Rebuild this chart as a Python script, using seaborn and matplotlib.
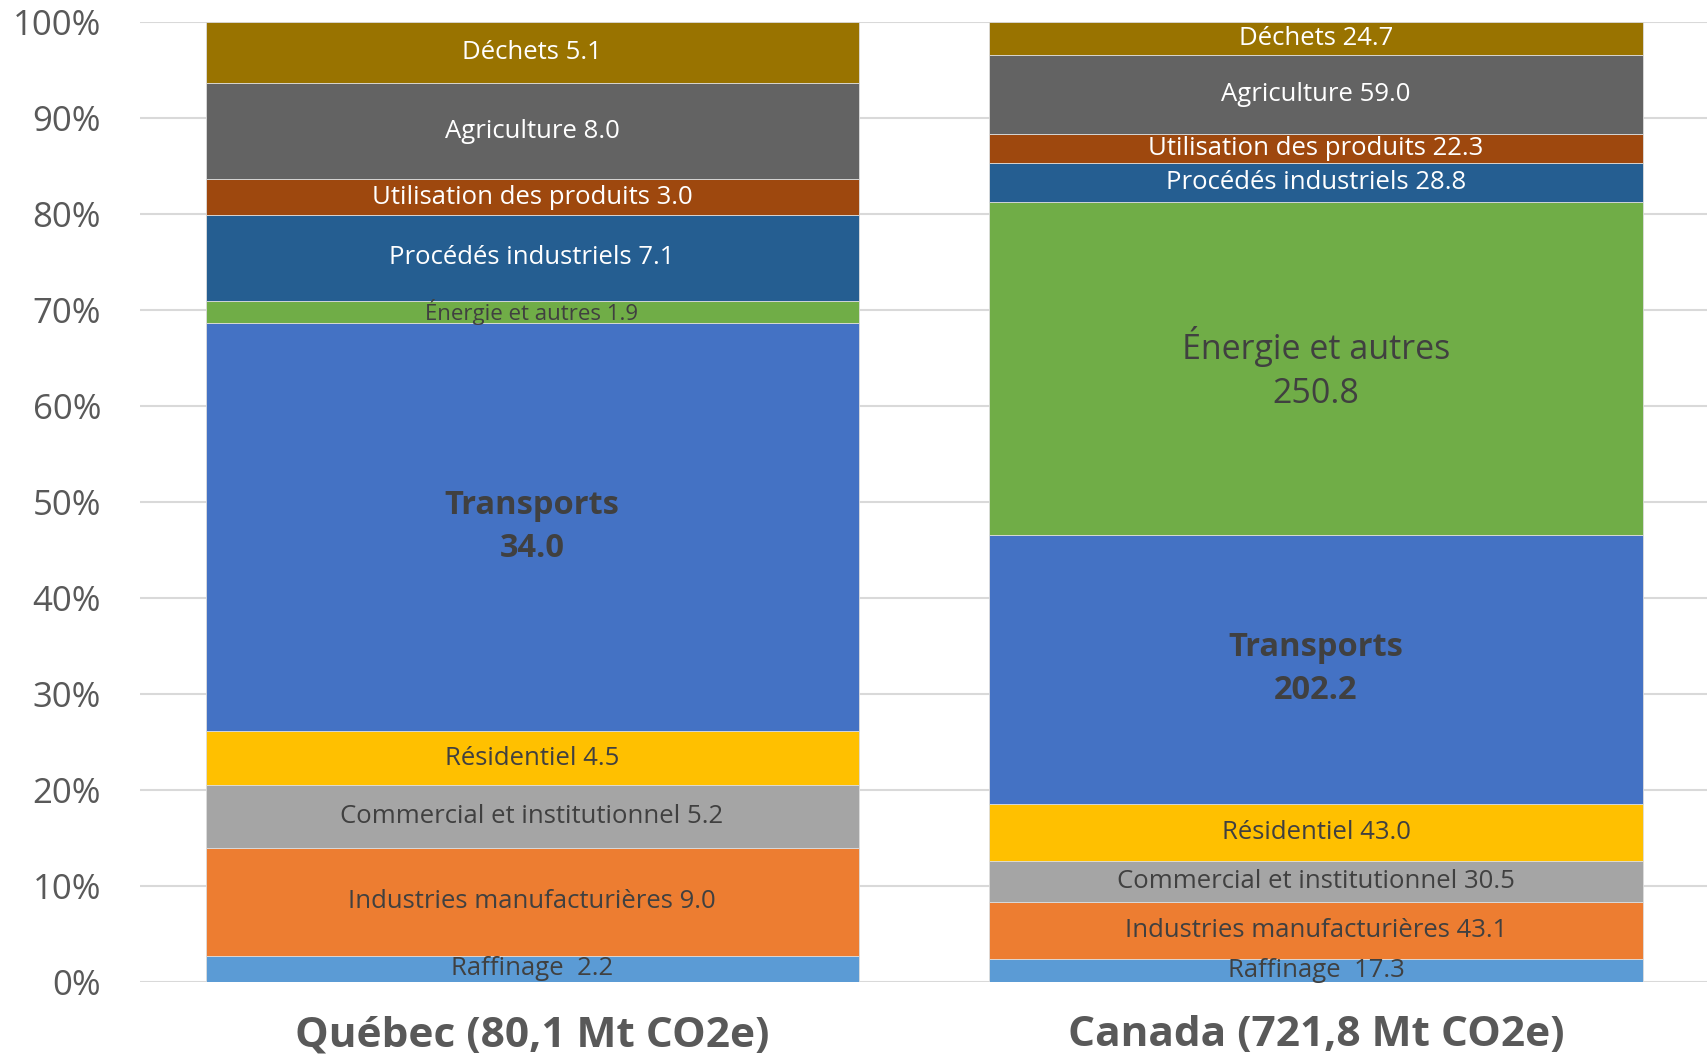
import pandas as pd
import numpy as np
import matplotlib.pyplot as plt
import matplotlib.ticker as mtick
import seaborn as sns

# emissions by sector, Mt CO2e (bottom to top of each bar)
sectors = ['Raffinage', 'Industries manufacturières', 'Commercial et institutionnel',
           'Résidentiel', 'Transports', 'Énergie et autres', 'Procédés industriels',
           'Utilisation des produits', 'Agriculture', 'Déchets']
regions = ['Québec (80,1 Mt CO2e)', 'Canada (721,8 Mt CO2e)']
quebec = [2.2, 9.0, 5.2, 4.5, 34.0, 1.9, 7.1, 3.0, 8.0, 5.1]
canada = [17.3, 43.1, 30.5, 43.0, 202.2, 250.8, 28.8, 22.3, 59.0, 24.7]
colors = ['#5B9BD5', '#ED7D31', '#A5A5A5', '#FFC000', '#4472C4',
          '#70AD47', '#255E91', '#9E480E', '#636363', '#997300']
white_text = ['Procédés industriels', 'Utilisation des produits', 'Agriculture', 'Déchets']

rows = []
for reg, vals in zip(regions, [quebec, canada]):
    for s, v in zip(sectors, vals):
        rows.append({'region': reg, 'sector': s, 'value': v})
df = pd.DataFrame(rows)

sns.set_theme(style="white")
plt.rcParams['font.family'] = ['Open Sans', 'DejaVu Sans']

fig = plt.figure(figsize=(17.08, 10.59), dpi=100)
ax = fig.add_axes([0.082, 0.0727, 0.918, 0.9063])

# seaborn stacks the last hue level at the bottom
sns.histplot(data=df, x='region', weights='value', hue='sector',
             hue_order=sectors[::-1], palette=dict(zip(sectors, colors)),
             multiple='fill', discrete=True, shrink=0.833, alpha=1,
             linewidth=0.6, edgecolor='#dddddd', legend=False, ax=ax, zorder=2)

ax.set_xlim(-0.5, 1.5)
ax.set_ylim(0, 1)
ax.yaxis.set_major_locator(mtick.MultipleLocator(0.1))
ax.yaxis.set_major_formatter(mtick.PercentFormatter(1.0, decimals=0))
ax.grid(axis='y', color='#D9D9D9', lw=1.5, zorder=0)
ax.set_axisbelow(True)
for sp in ax.spines.values():
    sp.set_visible(False)
ax.set_xlabel('')
ax.set_ylabel('')
ax.tick_params(axis='y', length=0, pad=28, labelsize=25, labelcolor='#595959')
ax.tick_params(axis='x', length=0, pad=24)
ax.set_xticks([0, 1])
ax.set_xticklabels(regions, fontsize=30.5, fontweight='bold', color='#595959')

# segment labels
for i, vals in enumerate([quebec, canada]):
    vals = np.array(vals)
    share = vals / vals.sum()
    base = np.concatenate([[0], np.cumsum(share)[:-1]])
    for s, v, b, h in zip(sectors, vals, base, share):
        col = 'white' if s in white_text else '#404040'
        name = s + '  ' if s == 'Raffinage' else s + ' '
        size, weight = 18.5, 'normal'
        txt = f'{name}{v:.1f}'
        if s == 'Transports':
            txt = f'{s}\n{v:.1f}'
            size, weight = 23.5, 'bold'
        elif s == 'Énergie et autres':
            if h > 0.1:
                txt = f'{s}\n{v:.1f}'
                size = 24.5
            else:
                size = 16
        ax.text(i, b + h / 2, txt, ha='center', va='center', color=col,
                fontsize=size, fontweight=weight, linespacing=1.4, zorder=3)

fig.savefig('out.png', dpi=100)
